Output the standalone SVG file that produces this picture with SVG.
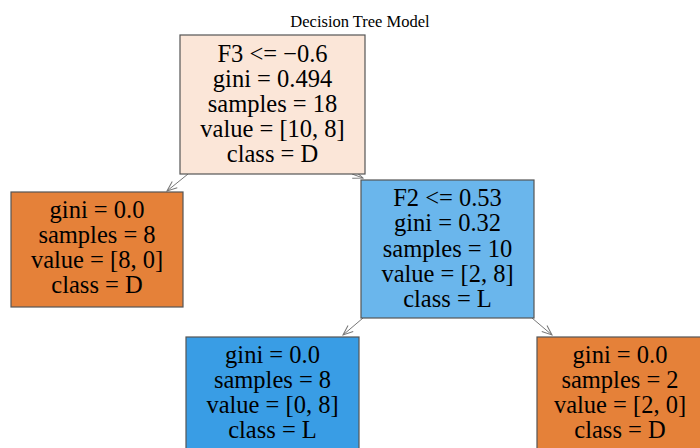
<svg xmlns="http://www.w3.org/2000/svg" width="700" height="448" viewBox="0 0 700 448">
  <defs>
    <style>
      .box { stroke: #555; stroke-width: 1.2; }
      .t { font-family: "Liberation Serif", "Times New Roman", serif; font-size: 24.5px; fill: #000; text-anchor: middle; }
      .title { font-family: "Liberation Serif", "Times New Roman", serif; font-size: 16.5px; fill: #000; text-anchor: middle; }
      .edge { stroke: #777; stroke-width: 1; fill: none; marker-end: url(#arr); }
    </style>
    <marker id="arr" viewBox="0 0 12 10" refX="11" refY="5" markerWidth="12" markerHeight="10" markerUnits="userSpaceOnUse" orient="auto">
      <polyline points="1,1 11,5 1,9" fill="none" stroke="#777" stroke-width="1"/>
    </marker>
  </defs>
  <rect width="700" height="448" fill="#fff"/>
  <text class="title" x="360" y="27">Decision Tree Model</text>

  <g id="connectors">
    <line class="edge" x1="188" y1="174" x2="167" y2="191"/>
    <line class="edge" x1="352" y1="174" x2="363" y2="178"/>
    <line class="edge" x1="363" y1="318" x2="343" y2="335"/>
    <line class="edge" x1="532" y1="318" x2="552" y2="335"/>
  </g>

  <g id="node-root">
    <rect class="box" x="180" y="35" width="185" height="139" fill="#fbe6d8"/>
    <text class="t" x="272.5" y="62">F3 &lt;= −0.6</text>
    <text class="t" x="272.5" y="87">gini = 0.494</text>
    <text class="t" x="272.5" y="112">samples = 18</text>
    <text class="t" x="272.5" y="137">value = [10, 8]</text>
    <text class="t" x="272.5" y="162">class = D</text>
  </g>

  <g id="node-left">
    <rect class="box" x="11" y="192" width="172" height="115" fill="#e58139"/>
    <text class="t" x="97" y="218">gini = 0.0</text>
    <text class="t" x="97" y="243">samples = 8</text>
    <text class="t" x="97" y="268">value = [8, 0]</text>
    <text class="t" x="97" y="293">class = D</text>
  </g>

  <g id="node-right">
    <rect class="box" x="361" y="180" width="173" height="138" fill="#6ab6ec"/>
    <text class="t" x="447.5" y="206">F2 &lt;= 0.53</text>
    <text class="t" x="447.5" y="231">gini = 0.32</text>
    <text class="t" x="447.5" y="257">samples = 10</text>
    <text class="t" x="447.5" y="282">value = [2, 8]</text>
    <text class="t" x="447.5" y="307">class = L</text>
  </g>

  <g id="node-right-left">
    <rect class="box" x="186" y="337" width="173" height="120" fill="#399de5"/>
    <text class="t" x="272.5" y="363">gini = 0.0</text>
    <text class="t" x="272.5" y="388">samples = 8</text>
    <text class="t" x="272.5" y="413">value = [0, 8]</text>
    <text class="t" x="272.5" y="438">class = L</text>
  </g>

  <g id="node-right-right">
    <rect class="box" x="537" y="337" width="173" height="120" fill="#e58139"/>
    <text class="t" x="620" y="363">gini = 0.0</text>
    <text class="t" x="620" y="388">samples = 2</text>
    <text class="t" x="620" y="413">value = [2, 0]</text>
    <text class="t" x="620" y="438">class = D</text>
  </g>
</svg>
